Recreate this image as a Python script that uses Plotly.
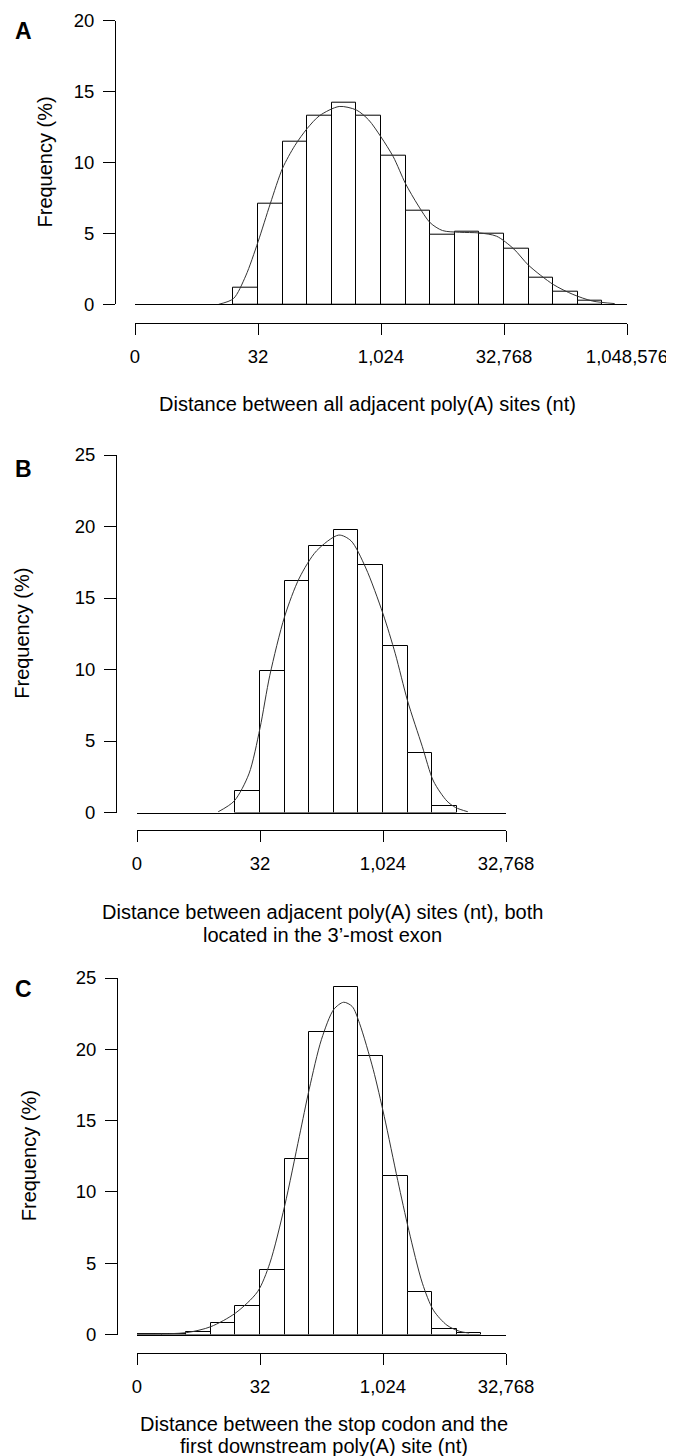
import plotly.graph_objects as go

# The page body has an 8 px default margin, so the figure is drawn 8 px in
# from the top-left corner of the 674x1456 window.
VIEW_W, VIEW_H = 674, 1456
OFF = 8
W, H = VIEW_W - OFF, VIEW_H - OFF

# ---------------- data (log2 distance bins, frequency %) ----------------
a_bin_left = [4, 5, 6, 7, 8, 9, 10, 11, 12, 13, 14, 15, 16, 17, 18]
a_freq = [1.2, 7.1, 11.5, 13.3, 14.2, 13.3, 10.5, 6.6, 4.9, 5.15, 5.0, 3.9, 1.9, 0.9, 0.28]
a_dens_x = [3.4, 4.0, 4.5, 5.0, 5.5, 6.0, 6.5, 7.0, 7.5, 8.3, 9.0, 9.5, 10.0, 10.5,
            11.0, 11.5, 12.0, 12.5, 13.2, 14.0, 14.7, 15.4, 16.0, 17.0, 17.8, 18.6, 19.5]
a_dens_y = [0.0, 0.4, 2.0, 4.4, 7.1, 9.6, 11.2, 12.4, 13.3, 13.95, 13.7, 13.0, 11.8, 10.4,
            8.5, 7.0, 5.75, 5.2, 5.08, 5.03, 4.8, 3.9, 2.75, 1.4, 0.7, 0.23, 0.05]

b_bin_left = [4, 5, 6, 7, 8, 9, 10, 11, 12]
b_freq = [1.5, 9.9, 16.2, 18.65, 19.75, 17.3, 11.65, 4.15, 0.45]
b_dens_x = [3.3, 3.95, 4.55, 5.0, 5.4, 6.0, 6.6, 7.3, 8.2, 8.7, 9.3, 10.0, 10.5, 11.0,
            11.6, 12.05, 12.6, 12.95, 13.45]
b_dens_y = [0.05, 0.8, 2.7, 5.9, 9.6, 13.7, 16.4, 18.3, 19.4, 19.0, 17.1, 13.9, 11.1, 7.8,
            4.6, 2.2, 0.8, 0.35, 0.05]

c_bin_left = [0, 1, 2, 3, 4, 5, 6, 7, 8, 9, 10, 11, 12, 13]
c_freq = [0.05, 0.05, 0.2, 0.8, 2.0, 4.5, 12.3, 21.2, 24.4, 19.5, 11.1, 3.0, 0.4, 0.08]
c_dens_x = [0.0, 2.0, 3.0, 4.0, 4.9, 5.4, 6.0, 6.6, 7.0, 7.5, 8.0, 8.4, 8.75, 9.05,
            9.6, 10.05, 10.6, 11.05, 11.6, 12.05, 12.6, 13.1, 13.5]
c_dens_y = [0.03, 0.13, 0.55, 1.5, 3.0, 5.0, 9.0, 13.9, 17.2, 20.7, 22.8, 23.3, 23.0, 21.8,
            18.6, 15.3, 10.8, 7.3, 3.6, 1.7, 0.65, 0.23, 0.1]

x_tick_pos_a = [0, 5, 10, 15, 20]
x_tick_text_a = ["0", "32", "1,024", "32,768", "1,048,576"]
x_tick_pos_bc = [0, 5, 10, 15]
x_tick_text_bc = ["0", "32", "1,024", "32,768"]
y_ticks_a = [0, 5, 10, 15, 20]
y_ticks_bc = [0, 5, 10, 15, 20, 25]

y_title = "Frequency (%)"
x_title_a = ["Distance between all adjacent poly(A) sites (nt)"]
x_title_b = ["Distance between adjacent poly(A) sites (nt), both",
             "located in the 3\u2019-most exon"]
x_title_c = ["Distance between the stop codon and the",
             "first downstream poly(A) site (nt)"]

FONT = "Liberation Sans, Arial, sans-serif"
TICK_SIZE = 18.5
TITLE_SIZE = 20

# ---------------- layout geometry (window pixels) ----------------
panels = [
    dict(label="A", bins=a_bin_left, freq=a_freq, dx=a_dens_x, dy=a_dens_y,
         xr=[0, 20], x0=135, x1=627, yr=[0, 20], ytop=20.7, ybot=304.3,
         yaxis_x=115, low_y=322.7, xtv=x_tick_pos_a, xtt=x_tick_text_a, ytv=y_ticks_a,
         lab_xy=(23.5, 31.5), ytitle_x=44, xtitle=x_title_a, xtitle_cx=367, xtitle_y=[404]),
    dict(label="B", bins=b_bin_left, freq=b_freq, dx=b_dens_x, dy=b_dens_y,
         xr=[0, 15], x0=137, x1=506, yr=[0, 25], ytop=455, ybot=812.5,
         yaxis_x=116, low_y=830, xtv=x_tick_pos_bc, xtt=x_tick_text_bc, ytv=y_ticks_bc,
         lab_xy=(23.5, 468.5), ytitle_x=22, xtitle=x_title_b, xtitle_cx=322, xtitle_y=[912, 935]),
    dict(label="C", bins=c_bin_left, freq=c_freq, dx=c_dens_x, dy=c_dens_y,
         xr=[0, 15], x0=137, x1=506, yr=[0, 25], ytop=978, ybot=1334.5,
         yaxis_x=117, low_y=1352.5, xtv=x_tick_pos_bc, xtt=x_tick_text_bc, ytv=y_ticks_bc,
         lab_xy=(23.5, 989), ytitle_x=29, xtitle=x_title_c, xtitle_cx=324, xtitle_y=[1424, 1446]),
]

fig = go.Figure()
layout = dict(template="none", width=W, height=H, autosize=False,
              margin=dict(l=0, r=0, t=0, b=0, pad=0),
              paper_bgcolor="white", plot_bgcolor="white", showlegend=False,
              font=dict(family=FONT, color="black", size=TICK_SIZE))
annotations = []

def px(x):
    return (x - OFF) / W

def py(y):
    return 1 - (y - OFF) / H

for i, p in enumerate(panels):
    xm = 2 * i + 1
    xl = 2 * i + 2
    yn = i + 1
    xm_name = "x" if xm == 1 else f"x{xm}"
    xl_name = f"x{xl}"
    y_name = "y" if yn == 1 else f"y{yn}"

    fig.add_trace(go.Bar(x=p["bins"], y=p["freq"], offset=0, width=1,
                         marker=dict(color="white", line=dict(color="black", width=1)),
                         xaxis=xm_name, yaxis=y_name, hoverinfo="skip"))
    fig.add_trace(go.Scatter(x=p["dx"], y=p["dy"], mode="lines",
                             line=dict(color="#333333", width=1, shape="spline", smoothing=0.8),
                             xaxis=xm_name, yaxis=y_name, hoverinfo="skip"))
    # invisible trace so the lower (offset) axis is rendered
    fig.add_trace(go.Scatter(x=[p["xr"][0]], y=[0], mode="markers", marker=dict(opacity=0),
                             xaxis=xl_name, yaxis=y_name, hoverinfo="skip"))

    dom_x = [px(p["x0"]), px(p["x1"])]
    dom_y = [py(p["ybot"]), py(p["ytop"])]
    layout["xaxis" if xm == 1 else f"xaxis{xm}"] = dict(
        domain=dom_x, range=p["xr"], anchor=y_name, showline=True, linecolor="black",
        linewidth=1, ticks="", showticklabels=False, showgrid=False, zeroline=False,
        automargin=False, fixedrange=True)
    layout[f"xaxis{xl}"] = dict(
        overlaying=xm_name, anchor="free", position=py(p["low_y"]), range=p["xr"],
        showline=True, linecolor="black", linewidth=1, ticks="outside", ticklen=11,
        tickwidth=1, tickcolor="black", tickvals=p["xtv"], ticktext=p["xtt"],
        showgrid=False, zeroline=False, side="bottom", ticklabelstandoff=6,
        automargin=False, tickfont=dict(size=TICK_SIZE, family=FONT, color="black"))
    layout["yaxis" if yn == 1 else f"yaxis{yn}"] = dict(
        domain=dom_y, range=p["yr"], anchor="free", position=px(p["yaxis_x"]),
        showline=True, linecolor="black", linewidth=1, ticks="outside", ticklen=12,
        tickwidth=1, tickcolor="black", tickvals=p["ytv"], showgrid=False, zeroline=False,
        ticklabelstandoff=5, automargin=False,
        tickfont=dict(size=TICK_SIZE, family=FONT, color="black"))

    annotations.append(dict(text=f"<b>{p['label']}</b>", x=px(p["lab_xy"][0]), y=py(p["lab_xy"][1]),
                            xref="paper", yref="paper", showarrow=False, xanchor="center",
                            yanchor="middle", font=dict(size=23, family=FONT, color="black")))
    annotations.append(dict(text=y_title, x=px(p["ytitle_x"]), y=py((p["ytop"] + p["ybot"]) / 2),
                            xref="paper", yref="paper", showarrow=False, textangle=-90,
                            xanchor="center", yanchor="middle",
                            font=dict(size=TITLE_SIZE, family=FONT, color="black")))
    for line, ly in zip(p["xtitle"], p["xtitle_y"]):
        annotations.append(dict(text=line, x=px(p["xtitle_cx"]), y=py(ly), xref="paper",
                                yref="paper", showarrow=False, xanchor="center",
                                yanchor="middle",
                                font=dict(size=TITLE_SIZE, family=FONT, color="black")))

layout["annotations"] = annotations
layout["bargap"] = 0
fig.update_layout(**layout)
fig.write_html("out.html")
